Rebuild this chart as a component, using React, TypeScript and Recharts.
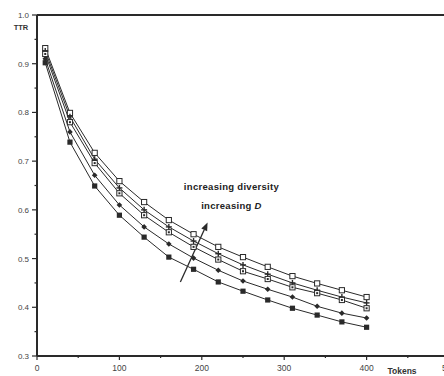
import { LineChart, Line, XAxis, YAxis, ReferenceLine, ReferenceDot, Label } from 'recharts';

// tokens sampled every 30
const tokens = [10, 40, 70, 100, 130, 160, 190, 220, 250, 280, 310, 340, 370, 400];

// TTR curves, top (most diverse) to bottom
const ttrA = [0.932, 0.799, 0.717, 0.659, 0.616, 0.579, 0.55, 0.524, 0.503, 0.483, 0.464, 0.449, 0.435, 0.421];
const ttrB = [0.926, 0.791, 0.704, 0.645, 0.6, 0.565, 0.536, 0.51, 0.487, 0.468, 0.45, 0.435, 0.421, 0.409];
const ttrC = [0.92, 0.78, 0.696, 0.634, 0.589, 0.554, 0.524, 0.498, 0.474, 0.458, 0.441, 0.429, 0.415, 0.398];
const ttrD = [0.91, 0.76, 0.671, 0.61, 0.565, 0.53, 0.501, 0.476, 0.454, 0.437, 0.421, 0.402, 0.388, 0.378];
const ttrE = [0.902, 0.739, 0.649, 0.589, 0.544, 0.503, 0.478, 0.452, 0.433, 0.415, 0.398, 0.384, 0.37, 0.359];

const xTicks = [0, 50, 100, 150, 200, 250, 300, 350, 400, 450, 500];
const yTicks = [0.3, 0.35, 0.4, 0.45, 0.5, 0.55, 0.6, 0.65, 0.7, 0.75, 0.8, 0.85, 0.9, 0.95, 1.0];

const data = tokens.map((t, i) => ({ t, a: ttrA[i], b: ttrB[i], c: ttrC[i], d: ttrD[i], e: ttrE[i] }));

const INK = '#2a2a2a';
const FONT = '"Liberation Sans", Arial, sans-serif';

type Kind = 'open' | 'plus' | 'dotsq' | 'diamond' | 'filled';

function makeDot(kind: Kind) {
  return (props: any) => {
    const { cx, cy, index } = props;
    if (cx == null || cy == null) return <g key={index} />;
    const s = 2.6;
    if (kind === 'open')
      return <rect key={index} x={cx - s} y={cy - s} width={2 * s} height={2 * s} fill="#fff" stroke={INK} strokeWidth={1} />;
    if (kind === 'dotsq')
      return (
        <g key={index}>
          <rect x={cx - s} y={cy - s} width={2 * s} height={2 * s} fill="#fff" stroke={INK} strokeWidth={1} />
          <rect x={cx - 1} y={cy - 1} width={2} height={2} fill={INK} />
        </g>
      );
    if (kind === 'plus')
      return (
        <g key={index} stroke={INK} strokeWidth={1.4}>
          <line x1={cx - 3} y1={cy} x2={cx + 3} y2={cy} />
          <line x1={cx} y1={cy - 3} x2={cx} y2={cy + 3} />
        </g>
      );
    if (kind === 'diamond')
      return <polygon key={index} points={`${cx},${cy - 2.8} ${cx + 2.8},${cy} ${cx},${cy + 2.8} ${cx - 2.8},${cy}`} fill={INK} />;
    return <rect key={index} x={cx - s} y={cy - s} width={2 * s} height={2 * s} fill={INK} />;
  };
}

function XTick(props: any) {
  const { x, y, payload } = props;
  const v = payload.value as number;
  const major = v % 100 === 0;
  return (
    <g>
      <line x1={x} y1={y} x2={x} y2={y + (major ? 4 : 2)} stroke={INK} strokeWidth={1.2} />
      {major && (
        <text x={x} y={y + 15} textAnchor="middle" fontSize={8.5} fill="#444" fontFamily={FONT}>
          {v}
        </text>
      )}
    </g>
  );
}

function YTick(props: any) {
  const { x, y, payload } = props;
  const v = payload.value as number;
  const major = Math.abs(v * 10 - Math.round(v * 10)) < 1e-6;
  return (
    <g>
      <line x1={x - (major ? 5 : 2.5)} y1={y} x2={x} y2={y} stroke={INK} strokeWidth={1.2} />
      {major && (
        <text x={x - 8} y={y + 3} textAnchor="end" fontSize={8} fill="#444" fontFamily={FONT}>
          {v.toFixed(1)}
        </text>
      )}
    </g>
  );
}

function Arrow(props: any) {
  const { x1, y1, x2, y2 } = props;
  if (x1 == null) return null;
  const ang = Math.atan2(y2 - y1, x2 - x1);
  const L = 8;
  const W = 3.2;
  const bx = x2 - L * Math.cos(ang);
  const by = y2 - L * Math.sin(ang);
  const px = -Math.sin(ang) * W;
  const py = Math.cos(ang) * W;
  return (
    <g>
      <line x1={x1} y1={y1} x2={bx} y2={by} stroke={INK} strokeWidth={1.3} />
      <polygon points={`${x2},${y2} ${bx + px},${by + py} ${bx - px},${by - py}`} fill={INK} />
    </g>
  );
}

function Annotation(props: any) {
  const { viewBox } = props;
  const cx = viewBox.cx ?? viewBox.x;
  const cy = viewBox.cy ?? viewBox.y;
  return (
    <g fontFamily={FONT} fontWeight="bold" fontSize={9.5} fill="#222" textAnchor="middle" letterSpacing={0.3}>
      <text x={cx} y={cy + 4.5}>increasing diversity</text>
      <text x={cx} y={cy + 23.5}>
        increasing <tspan fontStyle="italic">D</tspan>
      </text>
    </g>
  );
}

export default function App() {
  return (
    <div style={{ position: 'fixed', left: 0, top: 0, width: 444, height: 376, overflow: 'hidden', background: '#fff' }}>
      <LineChart width={452} height={376} data={data} margin={{ top: 15, right: 3, bottom: 0, left: 0 }}>
        <XAxis
          dataKey="t"
          type="number"
          domain={[0, 500]}
          ticks={xTicks}
          interval={0}
          tickSize={0}
          tickMargin={0}
          tickLine={false}
          tick={<XTick />}
          height={20}
          axisLine={{ stroke: INK, strokeWidth: 2 }}
        >
          <Label
            content={(p: any) => (
              <text x={p.viewBox.x + 365} y={p.viewBox.y + 18} textAnchor="middle" fontSize={8.5} fontWeight="bold" fill="#333" fontFamily={FONT}>
                Tokens
              </text>
            )}
          />
        </XAxis>
        <YAxis
          type="number"
          domain={[0.3, 1.0]}
          ticks={yTicks}
          interval={0}
          width={37}
          tickSize={0}
          tickMargin={0}
          tickLine={false}
          tick={<YTick />}
          axisLine={{ stroke: INK, strokeWidth: 2 }}
        >
          <Label
            content={(p: any) => (
              <text x={p.viewBox.x + 21} y={p.viewBox.y + 15} textAnchor="middle" fontSize={7.5} fontWeight="bold" fill="#333" fontFamily={FONT}>
                TTR
              </text>
            )}
          />
        </YAxis>
        <ReferenceLine y={1.0} stroke={INK} strokeWidth={2} />
        <ReferenceLine segment={[{ x: 174, y: 0.452 }, { x: 207, y: 0.574 }]} shape={<Arrow />} />
        <ReferenceDot x={236} y={0.65} r={0} fill="none" stroke="none" label={<Annotation />} />
        <Line dataKey="a" stroke={INK} strokeWidth={1} dot={makeDot('open')} isAnimationActive={false} />
        <Line dataKey="b" stroke={INK} strokeWidth={1} dot={makeDot('plus')} isAnimationActive={false} />
        <Line dataKey="c" stroke={INK} strokeWidth={1} dot={makeDot('dotsq')} isAnimationActive={false} />
        <Line dataKey="d" stroke={INK} strokeWidth={1} dot={makeDot('diamond')} isAnimationActive={false} />
        <Line dataKey="e" stroke={INK} strokeWidth={1} dot={makeDot('filled')} isAnimationActive={false} />
      </LineChart>
    </div>
  );
}
